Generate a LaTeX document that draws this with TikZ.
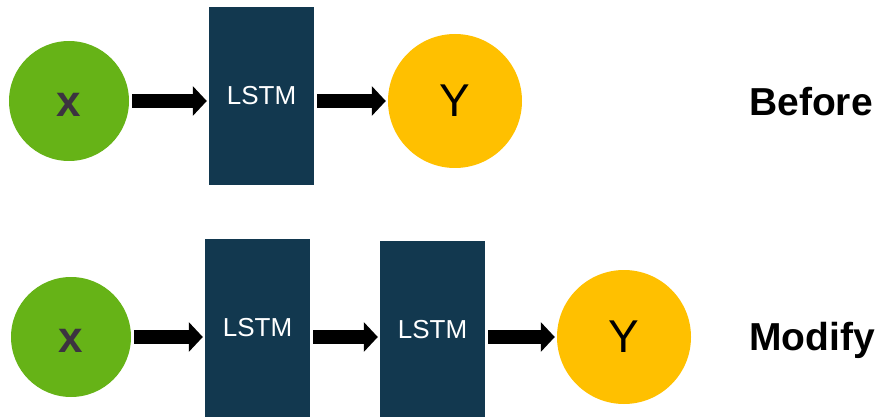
\documentclass[tikz,border=0pt]{standalone}
\usepackage{fontspec}
\setmainfont{Liberation Sans}
\usepackage{tikz}
\usetikzlibrary{arrows.meta}
\definecolor{inputgreen}{HTML}{66B317}
\definecolor{outputyellow}{HTML}{FFC000}
\definecolor{cellnavy}{HTML}{12384F}
\definecolor{xgrey}{HTML}{3C3340}
\tikzstyle{input} = [circle, fill=inputgreen, minimum size=120pt, inner sep=0pt, text=xgrey, text height=31pt, text depth=0pt, font=\fontsize{44}{48}\selectfont\bfseries]
\tikzstyle{output} = [circle, fill=outputyellow, minimum size=134pt, inner sep=0pt, text=black, font=\fontsize{46}{50}\selectfont]
\tikzstyle{cell} = [rectangle, fill=cellnavy, minimum width=105pt, minimum height=178pt, inner sep=0pt, text=white, font=\fontsize{26}{30}\selectfont]
\tikzstyle{tag} = [anchor=west, inner sep=0pt, font=\fontsize{39}{44}\selectfont\bfseries]
\tikzstyle{arrow} = [line width=14pt, -{Triangle[length=14pt, width=29pt]}, shorten <=3pt, shorten >=2pt]

\begin{document}
\begin{tikzpicture}[x=1pt, y=-1pt]
  \useasboundingbox (0,0) rectangle (881,417);

  % Before: one LSTM layer
  \node[input] (x1) at (69,101) {x};
  \node[cell] (lstm1) at (261.5,96) {LSTM};
  \node[output] (y1) at (455,101) {Y};
  \node[tag] (before) at (749,102) {Before};

  \draw[arrow] (x1.east) -- (x1.east -| lstm1.west);
  \draw[arrow] (lstm1.east |- y1.west) -- (y1.west);

  % Modify: two stacked LSTM layers
  \node[input] (x2) at (71,337) {x};
  \node[cell] (lstm2) at (257.5,328) {LSTM};
  \node[cell] (lstm3) at (432.5,330) {LSTM};
  \node[output] (y2) at (624,337) {Y};
  \node[tag] (modify) at (749,340) {Modify};

  \draw[arrow] (x2.east) -- (x2.east -| lstm2.west);
  \draw[arrow] (lstm2.east |- x2.east) -- (lstm3.west |- x2.east);
  \draw[arrow] (lstm3.east |- y2.west) -- (y2.west);

\end{tikzpicture}
\end{document}
